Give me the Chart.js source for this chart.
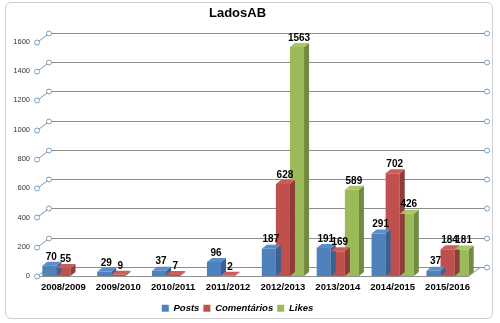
<!DOCTYPE html>
<html>
<head>
<meta charset="utf-8">
<script src="https://cdn.jsdelivr.net/npm/chart.js@4.4.1/dist/chart.umd.min.js"></script>
<style>
  html, body { margin: 0; padding: 0; background: #fff; }
  #frame { position: absolute; left: 5px; top: 2px; width: 486px; height: 315px;
           border: 1px solid #cfcfcf; border-radius: 6px; background: #fff; }
  #wrap { position: absolute; left: 0; top: 0; width: 500px; height: 323px; }
</style>
</head>
<body>
<div id="frame"></div>
<div id="wrap"><canvas id="chart" width="500" height="323"></canvas></div>
<script>
const seasons = ['2008/2009', '2009/2010', '2010/2011', '2011/2012', '2012/2013', '2013/2014', '2014/2015', '2015/2016'];
const posts = [70, 29, 37, 96, 187, 191, 291, 37];
const comentarios = [55, 9, 7, 2, 628, 169, 702, 184];
const likes = [null, null, null, null, 1563, 589, 426, 181];
const yTicks = [0, 200, 400, 600, 800, 1000, 1200, 1400, 1600];

const FONT = "'Liberation Sans', Arial, sans-serif";
const DX = 12, DY = 9;      // profundidade da parede de fundo
const BDX = 5, BDY = 4;     // profundidade das barras

// paredes / grelha em perspetiva
const wallPlugin = {
  id: 'wall',
  beforeDatasetsDraw(chart) {
    const { ctx, chartArea: a, scales: { y } } = chart;
    ctx.save();
    ctx.strokeStyle = '#8e8e8e';
    ctx.lineWidth = 1;
    yTicks.forEach(v => {
      const py = Math.round(y.getPixelForValue(v)) + 0.5;
      ctx.beginPath();
      ctx.moveTo(a.left + 1, py);
      ctx.lineTo(a.left + 1 + DX, py - DY);
      ctx.lineTo(a.right + DX, py - DY);
      ctx.stroke();
    });
    // chão
    const p0 = Math.round(y.getPixelForValue(0)) + 0.5;
    ctx.beginPath();
    ctx.moveTo(a.left + 1, p0);
    ctx.lineTo(a.right - 7, p0);
    ctx.lineTo(a.right - 7 + DX, p0 - DY);
    ctx.stroke();
    // marcadores
    ctx.strokeStyle = '#6f9fcb';
    ctx.fillStyle = '#fff';
    yTicks.forEach(v => {
      const py = Math.round(y.getPixelForValue(v)) + 0.5;
      [[a.left + 1, py], [a.left + 1 + DX, py - DY], [a.right + DX, py - DY]].forEach(([cx, cy]) => {
        ctx.beginPath();
        ctx.arc(cx, cy, 2.5, 0, Math.PI * 2);
        ctx.fill();
        ctx.stroke();
      });
    });
    ctx.restore();
  }
};

// faces 3D e rótulos
const shades = [
  { top: '#5b8dc9', side: '#3a6291' },
  { top: '#cc5d5a', side: '#8e3b39' },
  { top: '#a7c665', side: '#728a41' }
];
const barPlugin = {
  id: 'bars3d',
  afterDatasetsDraw(chart) {
    const { ctx } = chart;
    ctx.save();
    chart.data.datasets.forEach((ds, i) => {
      const meta = chart.getDatasetMeta(i);
      meta.data.forEach((bar, j) => {
        const v = ds.data[j];
        if (v === null) return;
        const l = bar.x - bar.width / 2, r = bar.x + bar.width / 2;
        const t = bar.y, b = bar.base;
        ctx.fillStyle = shades[i].side;
        ctx.beginPath();
        ctx.moveTo(r, t); ctx.lineTo(r + BDX, t - BDY);
        ctx.lineTo(r + BDX, b - BDY); ctx.lineTo(r, b);
        ctx.closePath(); ctx.fill();
        ctx.fillStyle = shades[i].top;
        ctx.beginPath();
        ctx.moveTo(l, t); ctx.lineTo(l + BDX, t - BDY);
        ctx.lineTo(r + BDX, t - BDY); ctx.lineTo(r, t);
        ctx.closePath(); ctx.fill();
      });
    });
    ctx.fillStyle = '#000';
    ctx.font = 'bold 10px ' + FONT;
    ctx.textAlign = 'center';
    ctx.textBaseline = 'bottom';
    chart.data.datasets.forEach((ds, i) => {
      chart.getDatasetMeta(i).data.forEach((bar, j) => {
        const v = ds.data[j];
        if (v === null) return;
        ctx.fillText(String(v), bar.x + 2, bar.y - 4);
      });
    });
    ctx.restore();
  }
};

new Chart(document.getElementById('chart'), {
  type: 'bar',
  data: {
    labels: seasons,
    datasets: [
      { label: 'Posts', data: posts, backgroundColor: '#4f81bd' },
      { label: 'Comentários', data: comentarios, backgroundColor: '#c0504d' },
      { label: 'Likes', data: likes, backgroundColor: '#9bbb59' }
    ]
  },
  options: {
    responsive: false,
    animation: false,
    layout: { padding: { left: 0, right: 25, top: 6, bottom: 0 } },
    datasets: { bar: { categoryPercentage: 0.77, barPercentage: 1 } },
    plugins: {
      title: {
        display: true,
        text: 'LadosAB',
        color: '#000',
        font: { family: FONT, size: 13, weight: 'bold' },
        padding: { top: 0, bottom: 20 }
      },
      legend: {
        position: 'bottom',
        labels: {
          color: '#000',
          font: { family: FONT, size: 9.5, weight: 'bold', style: 'italic' },
          boxWidth: 7, boxHeight: 7, padding: 4
        }
      },
      tooltip: { enabled: false }
    },
    scales: {
      x: {
        grid: { display: false, drawTicks: false },
        border: { display: false },
        ticks: { color: '#000', padding: 6, maxRotation: 0, minRotation: 0, autoSkip: false,
                 font: { family: FONT, size: 9.5, weight: 'bold' } }
      },
      y: {
        min: 0, max: 1600,
        afterFit(scale) { scale.width = 36; },
        afterBuildTicks(scale) { scale.ticks = yTicks.map(v => ({ value: v })); },
        grid: { display: false, drawTicks: false },
        border: { display: false },
        ticks: { color: '#333', padding: 6, font: { family: FONT, size: 7.5 },
                 callback: v => String(v) }
      }
    }
  },
  plugins: [wallPlugin, barPlugin]
});
</script>
</body>
</html>
